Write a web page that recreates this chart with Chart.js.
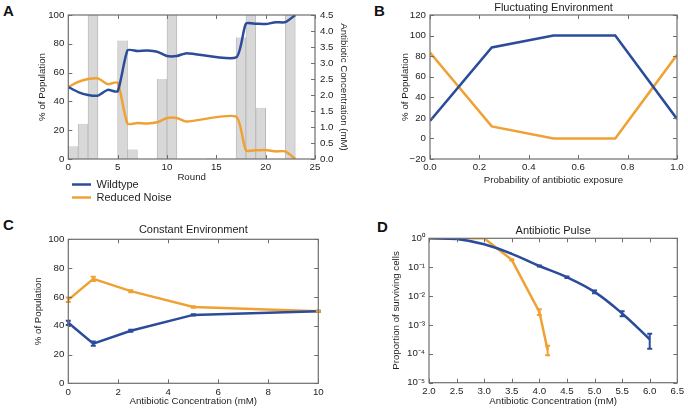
<!DOCTYPE html>
<html><head><meta charset="utf-8">
<script src="https://cdn.jsdelivr.net/npm/chart.js@4.4.0/dist/chart.umd.min.js"></script>
<style>
html,body{margin:0;padding:0;background:#fff;width:688px;height:410px;overflow:hidden;position:relative;font-family:"Liberation Sans",Arial,sans-serif;}
canvas{position:absolute;}
.lab{position:absolute;font-weight:bold;font-size:15px;line-height:15px;color:#111;font-family:"Liberation Sans",Arial,sans-serif;}
</style></head><body>
<div class="lab" style="left:3px;top:3px">A</div>
<div class="lab" style="left:374px;top:3px">B</div>
<div class="lab" style="left:3px;top:217px">C</div>
<div class="lab" style="left:377px;top:219px">D</div>
<script>
// ---------- DATA ----------
// Panel A
const roundsA = [0,1,2,3,4,5,6,7,8,9,10,11,12,17,18,19,20,21,22,23];
const wildtypeA = [50,46.5,44.5,44,48,47,75.5,75,75.3,74.5,71.5,71.5,73.5,70.5,94,94,93.7,95,95,100];
const reducedA  = [50,53.5,55.5,56,52,53,24.5,25,24.7,25.5,28.5,28.5,26,29.5,6,6,6.2,5.3,5.3,0];
const barRoundsA = [0,1,2,5,6,9,10,14,17,18,19,22];
const barConcA   = [0.4,1.1,4.5,3.7,0.3,2.5,4.5,0.02,3.8,4.5,1.6,4.5];
// Panel B
const probB = [0,0.25,0.5,0.75,1.0];
const wildtypeB = [17,88.5,100,100,19];
const reducedB  = [83.5,11.7,0,0,81.3];
// Panel C
const concC = [0,1,2.5,5,10];
const wildtypeC = [42,27.5,36.5,47.5,50];
const wildtypeCErr = [1.5,1.5,0.7,0.5,0.3];
const reducedC  = [58,72.5,64,53,50];
const reducedCErr = [1.5,1.5,0.7,0.5,0.3];
// Panel D
const concDBlue = [2.0,2.5,3.0,3.5,4.0,4.5,5.0,5.5,6.0];
const wildtypeD = [1.0,0.95,0.62,0.29,0.11,0.045,0.014,0.0025,0.00032];
const wildtypeDLo = [null,null,null,null,0.105,0.042,0.0125,0.002,0.00015];
const wildtypeDHi = [null,null,null,null,0.115,0.048,0.0155,0.003,0.0005];
const concDOrange = [2.0,2.5,3.0,3.5,4.0,4.15];
const reducedD = [1.0,1.0,1.0,0.18,0.0028,0.000135];
const reducedDLo = [null,null,null,0.17,0.0022,0.00009];
const reducedDHi = [null,null,null,0.19,0.0035,0.00019];
const logTicksD = [-5,-4,-3,-2,-1,0];

// ---------- STYLE ----------
const BLUE = '#2b4c9b', ORANGE = '#f0a133', TXT = '#1e1e1e', FRAME = '#6e6e6e';
const FONT = '"Liberation Sans", Arial, sans-serif';
const tickFont = {family: FONT, size: 9.7};
const axFont = {family: FONT, size: 9.7};
const titleFont = {family: FONT, size: 11, weight: 'normal'};

function mkCanvas(x, y, w, h) {
  const c = document.createElement('canvas');
  c.width = w; c.height = h;
  c.style.left = x + 'px'; c.style.top = y + 'px';
  c.style.width = w + 'px'; c.style.height = h + 'px';
  document.body.appendChild(c);
  return c;
}
const fixW = w => (s => { s.width = w; });
const fixH = h => (s => { s.height = h; });

const frameTicks = {
  id: 'frameTicks',
  afterDatasetsDraw(chart) {
    const {ctx, chartArea: a} = chart;
    ctx.save();
    ctx.strokeStyle = FRAME; ctx.lineWidth = 1;
    const L = 4;
    const both = !chart.scales.y2;
    for (const s of Object.values(chart.scales)) {
      if (!s.options.display) continue;
      s.ticks.forEach((t, i) => {
        const p = Math.round(s.getPixelForTick(i)) + 0.5;
        ctx.beginPath();
        if (s.isHorizontal()) {
          ctx.moveTo(p, a.bottom); ctx.lineTo(p, a.bottom - L);
          ctx.moveTo(p, a.top); ctx.lineTo(p, a.top + L);
        } else {
          if (s.position === 'left' || both) { ctx.moveTo(a.left, p); ctx.lineTo(a.left + L, p); }
          if (s.position === 'right' || both) { ctx.moveTo(a.right, p); ctx.lineTo(a.right - L, p); }
        }
        ctx.stroke();
      });
    }
    ctx.lineWidth = 1.2;
    ctx.strokeRect(a.left, a.top, a.right - a.left, a.bottom - a.top);
    ctx.restore();
  }
};
const errorBars = {
  id: 'errorBars',
  afterDatasetsDraw(chart) {
    const ctx = chart.ctx;
    chart.data.datasets.forEach((ds, di) => {
      if (!ds.errLo) return;
      const meta = chart.getDatasetMeta(di);
      const xs = chart.scales[meta.xAxisID], ys = chart.scales[meta.yAxisID];
      ctx.save();
      ctx.strokeStyle = ds.borderColor; ctx.lineWidth = 2;
      ds.data.forEach((pt, i) => {
        const lo = ds.errLo[i], hi = ds.errHi[i];
        if (lo == null) return;
        const px = xs.getPixelForValue(pt.x);
        const y1 = ys.getPixelForValue(lo), y2 = ys.getPixelForValue(hi);
        ctx.beginPath();
        ctx.moveTo(px, y1); ctx.lineTo(px, y2);
        ctx.moveTo(px - 2.5, y1); ctx.lineTo(px + 2.5, y1);
        ctx.moveTo(px - 2.5, y2); ctx.lineTo(px + 2.5, y2);
        ctx.stroke();
      });
      ctx.restore();
    });
  }
};

function baseX(min, max, step, fmt, title, h, titlePadBottom) {
  return {
    type: 'linear', position: 'bottom', min, max, offset: false,
    grid: {display: false, drawTicks: false}, border: {display: false},
    ticks: {stepSize: step, color: TXT, font: tickFont, padding: 3, maxRotation: 0, autoSkip: false,
            callback: fmt},
    title: {display: true, text: title, color: TXT, font: axFont, padding: {top: 0, bottom: titlePadBottom}},
    afterFit: fixH(h)
  };
}
function baseY(min, max, step, fmt, title, w, pos) {
  return {
    type: 'linear', position: pos || 'left', min, max,
    grid: {display: false, drawTicks: false}, border: {display: false},
    ticks: {stepSize: step, color: TXT, font: tickFont, padding: 4, callback: fmt},
    title: {display: true, text: title, color: TXT, font: axFont, padding: {top: 4, bottom: 0}},
    afterFit: fixW(w)
  };
}
const minus = v => String(v).replace('-', '\u2212');
const fix1 = v => Number(v).toFixed(1);
const pts = (xs, ys) => xs.map((x, i) => ({x, y: ys[i]}));
Chart.defaults.animation = false;
Chart.defaults.font.family = FONT;

// ---------- PANEL A ----------
new Chart(mkCanvas(33, 0, 320, 185), {
  type: 'line',
  data: {datasets: [
    {label: 'Wildtype', data: pts(roundsA, wildtypeA), borderColor: BLUE, backgroundColor: BLUE,
     borderWidth: 2.5, pointRadius: 0, tension: 0.2, yAxisID: 'y', order: 0},
    {label: 'Reduced Noise', data: pts(roundsA, reducedA), borderColor: ORANGE, backgroundColor: ORANGE,
     borderWidth: 2.5, pointRadius: 0, tension: 0.2, yAxisID: 'y', order: 1},
    {type: 'bar', label: 'Antibiotic Concentration', data: barRoundsA.map((r, i) => ({x: r + 0.5, y: barConcA[i]})),
     backgroundColor: '#d8d8d8', borderColor: '#b4b4b4', borderWidth: {left: 0.8, right: 0.8, top: 0, bottom: 0},
     barPercentage: 1, categoryPercentage: 1, yAxisID: 'y2', order: 2}
  ]},
  options: {
    responsive: false, animation: false,
    layout: {padding: {left: 0, top: 15, right: 0, bottom: 0}},
    plugins: {legend: {display: false}, tooltip: {enabled: false}},
    scales: {
      x: baseX(0, 25, 5, v => v, 'Round', 26, 2),
      y: baseY(0, 100, 20, v => v, '% of Population', 35.3),
      y2: Object.assign(baseY(0, 4.5, 0.5, fix1, 'Antibiotic Concentration (mM)', 38, 'right'),
        {ticks: {stepSize: 0.5, color: TXT, font: tickFont, padding: 5, callback: fix1}})
    }
  },
  plugins: [frameTicks]
});
// legend for A
new Chart(mkCanvas(70, 177, 120, 90), {
  type: 'line',
  data: {datasets: [
    {label: 'Wildtype', data: [], borderColor: BLUE, backgroundColor: BLUE, borderWidth: 0},
    {label: 'Reduced Noise', data: [], borderColor: ORANGE, backgroundColor: ORANGE, borderWidth: 0}
  ]},
  options: {
    responsive: false, animation: false, layout: {padding: 0},
    scales: {x: {display: false}, y: {display: false}},
    plugins: {tooltip: {enabled: false},
      legend: {position: 'top', align: 'start',
        labels: {boxWidth: 19, boxHeight: 2.5, padding: 2, color: TXT, font: {family: FONT, size: 11}}}}
  }
});

// ---------- PANEL B ----------
new Chart(mkCanvas(396, 0, 292, 190), {
  type: 'line',
  data: {datasets: [
    {label: 'Wildtype', data: pts(probB, wildtypeB), borderColor: BLUE, borderWidth: 2.5, pointRadius: 0, tension: 0},
    {label: 'Reduced Noise', data: pts(probB, reducedB), borderColor: ORANGE, borderWidth: 2.5, pointRadius: 0, tension: 0}
  ]},
  options: {
    responsive: false, animation: false,
    layout: {padding: {left: 0, top: 0, right: 11, bottom: 0}},
    plugins: {legend: {display: false}, tooltip: {enabled: false},
      title: {display: true, text: 'Fluctuating Environment', fullSize: false, color: TXT, font: titleFont,
              padding: {top: 1, bottom: 0.8}}},
    scales: {
      x: baseX(0, 1, 0.2, fix1, 'Probability of antibiotic exposure', 31, 4),
      y: baseY(-20, 120, 20, minus, '% of Population', 34)
    }
  },
  plugins: [frameTicks]
});

// ---------- PANEL C ----------
new Chart(mkCanvas(29, 222, 311, 187), {
  type: 'line',
  data: {datasets: [
    {label: 'Wildtype', data: pts(concC, wildtypeC), borderColor: BLUE, borderWidth: 2.5, pointRadius: 0, tension: 0,
     errLo: wildtypeC.map((v, i) => v - wildtypeCErr[i]), errHi: wildtypeC.map((v, i) => v + wildtypeCErr[i])},
    {label: 'Reduced Noise', data: pts(concC, reducedC), borderColor: ORANGE, borderWidth: 2.5, pointRadius: 0, tension: 0,
     errLo: reducedC.map((v, i) => v - reducedCErr[i]), errHi: reducedC.map((v, i) => v + reducedCErr[i])}
  ]},
  options: {
    responsive: false, animation: false,
    layout: {padding: {left: 0, top: 0, right: 21.7, bottom: 0}},
    plugins: {legend: {display: false}, tooltip: {enabled: false},
      title: {display: true, text: 'Constant Environment', fullSize: false, color: TXT, font: titleFont,
              padding: {top: 1.4, bottom: 2.7}}},
    scales: {
      x: baseX(0, 10, 2, v => v, 'Antibiotic Concentration (mM)', 25.7, 1.5),
      y: baseY(0, 100, 20, v => v, '% of Population', 39.3)
    }
  },
  plugins: [errorBars, frameTicks]
});

// ---------- PANEL D ----------
const SUP = {'0':'\u2070','1':'\u00b9','2':'\u00b2','3':'\u00b3','4':'\u2074','5':'\u2075','-':'\u207b'};
const supFmt = v => '10' + String(Math.round(Math.log10(v))).split('').map(c => SUP[c]).join('');
const yD = baseY(1e-5, 1, null, supFmt, 'Proportion of surviving cells', 42);
yD.type = 'logarithmic';
delete yD.ticks.stepSize;
yD.afterBuildTicks = s => { s.ticks = logTicksD.map(e => ({value: Math.pow(10, e)})); };
new Chart(mkCanvas(387, 224, 301, 185), {
  type: 'line',
  data: {datasets: [
    {label: 'Wildtype', data: pts(concDBlue, wildtypeD), borderColor: BLUE, borderWidth: 2.5, pointRadius: 0, tension: 0.4,
     errLo: wildtypeDLo, errHi: wildtypeDHi},
    {label: 'Reduced Noise', data: pts(concDOrange, reducedD), borderColor: ORANGE, borderWidth: 2.5, pointRadius: 0, tension: 0,
     errLo: reducedDLo, errHi: reducedDHi}
  ]},
  options: {
    responsive: false, animation: false,
    layout: {padding: {left: 0, top: 0, right: 10.7, bottom: 0}},
    plugins: {legend: {display: false}, tooltip: {enabled: false},
      title: {display: true, text: 'Antibiotic Pulse', fullSize: false, color: TXT, font: titleFont,
              padding: {top: 0.4, bottom: 0.7}}},
    scales: {
      x: baseX(2, 6.5, 0.5, fix1, 'Antibiotic Concentration (mM)', 26.3, 1.5),
      y: yD
    }
  },
  plugins: [errorBars, frameTicks]
});
</script>
</body></html>
